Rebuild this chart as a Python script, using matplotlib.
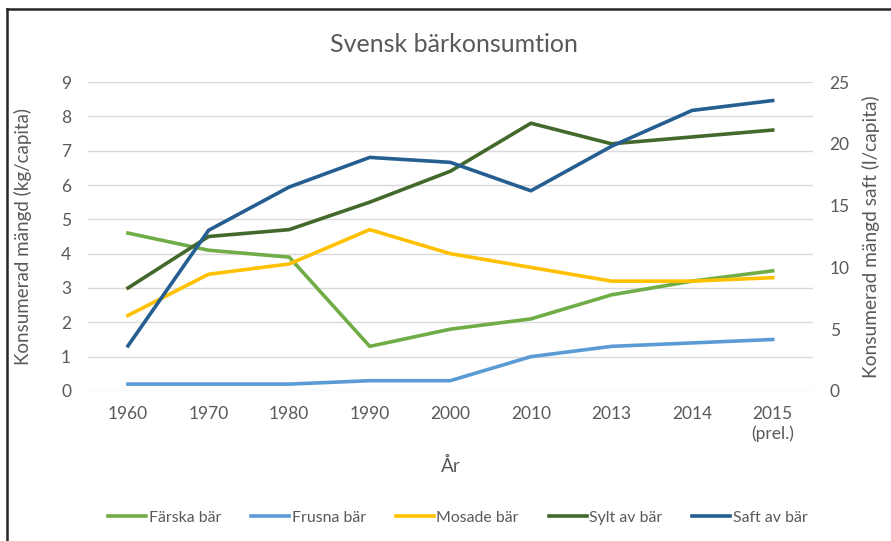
import matplotlib
matplotlib.use("Agg")
import matplotlib.pyplot as plt
from matplotlib.lines import Line2D

plt.rcParams['font.family'] = ['Lato', 'DejaVu Sans']

# data
years = ["1960", "1970", "1980", "1990", "2000", "2010", "2013", "2014", "2015\n(prel.)"]
farska = [4.6, 4.1, 3.9, 1.3, 1.8, 2.1, 2.8, 3.2, 3.5]
frusna = [0.2, 0.2, 0.2, 0.3, 0.3, 1.0, 1.3, 1.4, 1.5]
mosade = [2.2, 3.4, 3.7, 4.7, 4.0, 3.6, 3.2, 3.2, 3.3]
sylt = [3.0, 4.5, 4.7, 5.5, 6.4, 7.8, 7.2, 7.4, 7.6]
saft = [3.65, 13.0, 16.5, 18.9, 18.5, 16.2, 19.8, 22.7, 23.5]  # right axis (l/capita)

c_farska = "#70ad47"
c_frusna = "#5b9bd5"
c_mosade = "#ffc000"
c_sylt = "#43682b"
c_saft = "#255e91"
txt = "#595959"

fig = plt.figure(figsize=(8.91, 5.41), dpi=100)
ax = fig.add_axes([0.0984, 0.2773, 0.814, 0.5711])
ax2 = ax.twinx()

x = list(range(len(years)))
lw = 2.6
ax.plot(x, farska, color=c_farska, lw=lw, zorder=3)
ax.plot(x, frusna, color=c_frusna, lw=lw, zorder=3)
ax.plot(x, mosade, color=c_mosade, lw=lw, zorder=3)
ax.plot(x, sylt, color=c_sylt, lw=lw, zorder=3)
ax2.plot(x, saft, color=c_saft, lw=lw, zorder=3)

ax.set_xlim(-0.5, len(years) - 0.5)
ax.set_ylim(0, 9)
ax.set_yticks(range(0, 10))
ax2.set_ylim(0, 25)
ax2.set_yticks(range(0, 26, 5))
ax.set_xticks(x)
ax.set_xticklabels(years)

ax.grid(axis='y', color="#d9d9d9", lw=1)
ax.set_axisbelow(True)
for a in (ax, ax2):
    for s in a.spines.values():
        s.set_visible(False)
    a.tick_params(length=0, labelsize=12.5, colors=txt)
ax.tick_params(axis='x', pad=11)
ax.tick_params(axis='y', pad=12)
ax2.tick_params(axis='y', pad=12)

ax.set_ylabel("Konsumerad mängd (kg/capita)", fontsize=13.5, color=txt, labelpad=21)
ax2.set_ylabel("Konsumerad mängd saft (l/capita)", fontsize=13.8, color=txt, labelpad=9)
ax.set_xlabel("År", fontsize=13.5, color=txt, labelpad=11)

fig.text(0.51, 0.917, "Svensk bärkonsumtion", ha='center', va='center', fontsize=18, color=txt)

handles = [Line2D([], [], color=c, lw=lw) for c in (c_farska, c_frusna, c_mosade, c_sylt, c_saft)]
labels = ["Färska bär", "Frusna bär", "Mosade bär", "Sylt av bär", "Saft av bär"]
leg = fig.legend(handles, labels, loc='center', bbox_to_anchor=(0.514, 0.043), ncol=5,
                 frameon=False, fontsize=11.4, handlelength=2.4, handletextpad=0.15,
                 columnspacing=1.9)
for t in leg.get_texts():
    t.set_color(txt)

# chart border (top and left edges visible)
fig.add_artist(Line2D([0.008, 0.008], [0, 0.984], transform=fig.transFigure, color="#262626", lw=1.8))
fig.add_artist(Line2D([0.008, 1.0], [0.984, 0.984], transform=fig.transFigure, color="#262626", lw=1.8))

fig.savefig("out.png", dpi=100)
